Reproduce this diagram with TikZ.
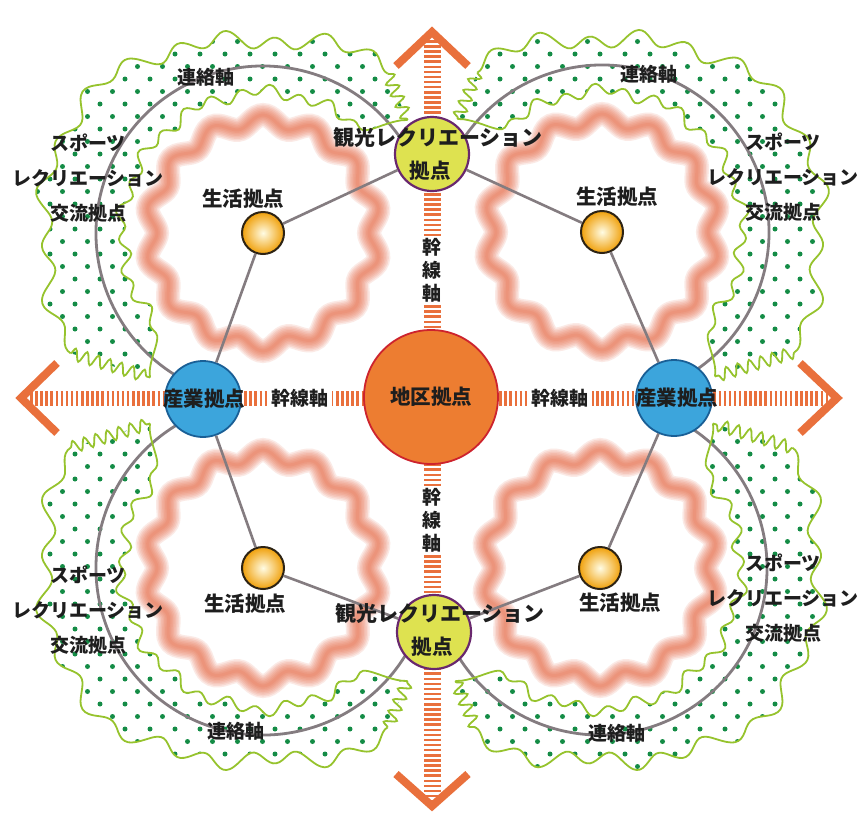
\documentclass[tikz,border=0pt]{standalone}
\usepackage{fontspec}
\setmainfont{Noto Sans CJK JP}
\usetikzlibrary{decorations.pathmorphing}

\definecolor{axisor}{RGB}{233,112,60}
\definecolor{starcol}{RGB}{230,100,62}
\definecolor{rimgreen}{RGB}{150,195,45}
\definecolor{dotgreen}{RGB}{20,140,70}
\definecolor{arcgray}{RGB}{132,124,128}
\definecolor{hubfill}{RGB}{237,125,49}
\definecolor{hubedge}{RGB}{205,35,45}
\definecolor{indfill}{RGB}{60,165,220}
\definecolor{indedge}{RGB}{25,95,150}
\definecolor{tourfill}{RGB}{222,226,80}
\definecolor{touredge}{RGB}{105,40,110}
\definecolor{lifeout}{RGB}{240,160,10}
\definecolor{lifein}{RGB}{255,252,228}
\definecolor{lifeedge}{RGB}{45,35,20}
\definecolor{txt}{RGB}{30,30,30}

\begin{document}
\begin{tikzpicture}[x=1pt,y=-1pt,
  declare function={
    rout(\t)=100/pow(pow(abs(cos(\t))/2.2+0.001,2.5)+pow(abs(sin(\t))/1.93+0.001,2.5),0.4)+7*sin(26*\t)+4*sin(11*\t+40);
    bump(\t)=max(0,1-abs(\t)/16);
    rin(\t)=141+5*sin(30*\t)+3*sin(13*\t)+36*bump(\t-38)*bump(\t-38)+36*bump(\t-232)*bump(\t-232);
  },
  rim/.style={rimgreen, line width=1.8pt},
  wiggle/.style={decorate, decoration={snake, amplitude=6pt, segment length=12pt}},
  arcline/.style={arcgray, line width=2.8pt},
  spoke/.style={arcgray, line width=2.6pt},
  hstripe/.style={axisor, line width=15pt, dash pattern=on 2.5pt off 2.6pt},
  vstripe/.style={axisor, line width=17pt, dash pattern=on 2.5pt off 2.6pt},
  chev/.style={axisor, line width=8pt, line join=miter},
  hub/.style={circle, fill=hubfill, draw=hubedge, line width=1.8pt, minimum size=134pt, inner sep=0pt},
  ind/.style={circle, fill=indfill, draw=indedge, line width=1.8pt, minimum size=76pt, inner sep=0pt},
  tour/.style={circle, fill=tourfill, draw=touredge, line width=2.2pt, minimum size=74pt, inner sep=0pt},
  life/.style={circle, draw=lifeedge, line width=2pt, minimum size=42pt, inner sep=0pt, inner color=lifein, outer color=lifeout},
  nlbl/.style={font=\fontsize{20.5}{20.5}\selectfont\bfseries, text=txt, inner sep=0pt},
  lbl/.style={font=\fontsize{19}{35}\selectfont\bfseries, text=txt, inner sep=0pt, align=center},
  hlbl/.style={font=\fontsize{19}{19}\selectfont\bfseries, text=txt, fill=white, inner xsep=3pt, inner ysep=1pt},
  vlbl/.style={font=\fontsize{19}{23}\selectfont\bfseries, text=txt, fill=white, inner xsep=1pt, inner ysep=2pt, align=center},
]
\useasboundingbox (0,0) rectangle (863,820);
\fill[white] (0,0) rectangle (863,820);

% dotted belts: centre, mirror signs, lattice offset
\foreach \cx/\cy/\sx/\sy/\ox/\oy in {263/233/+/-/0/0, 602/232/-/-/425/0, 263/568/+/+/0/400, 600/568/-/+/425/400}{
  \begin{scope}
    \clip plot[domain=52:212,samples=170,smooth] ({\cx \sx rout(\x)*cos(\x)},{\cy \sy rout(\x)*sin(\x)})
       -- plot[domain=232:38,samples=150,smooth] ({\cx \sx rin(\x)*cos(\x)},{\cy \sy rin(\x)*sin(\x)}) -- cycle;
    \foreach \j in {0,...,34}{
      \foreach \i in {0,...,18}{
        \fill[dotgreen] ({\ox+12.5*mod(\j,2)+25*\i},{\oy+4+12.5*\j}) circle[radius=2.5];
      }
    }
  \end{scope}
}

% soft wavy rings round each living area
\foreach \cx/\cy in {263/233, 602/232, 263/568, 600/568}{
  \foreach \w in {24,21,18,15,12,9,6,3}{
    \draw[starcol, line width=\w pt, opacity=0.13]
      plot[domain=0:360, samples=241] ({\cx+(112-6*cos(14*\x))*cos(\x)},{\cy+(112-6*cos(14*\x))*sin(\x)}) -- cycle;
  }
}

\coordinate (cTL) at (263,233);
\coordinate (cTR) at (602,232);
\coordinate (cBL) at (263,568);
\coordinate (cBR) at (600,568);

% link arcs
\draw[arcline] (cTL) ++(-24.8:167) arc[start angle=-24.8, end angle=-250.1, radius=167];
\draw[arcline] (cTR) ++(-155.6:167) arc[start angle=-155.6, end angle=66.6, radius=167];
\draw[arcline] (cBL) ++(20.5:167) arc[start angle=20.5, end angle=250.5, radius=167];
\draw[arcline] (cBR) ++(158.9:167) arc[start angle=158.9, end angle=-66.5, radius=167];

% trunk axes
\coordinate (axW) at (30,398);
\coordinate (axE) at (832,398);
\coordinate (axN) at (432,40);
\coordinate (axS) at (432,800);
\draw[hstripe] (axW) -- (axE);
\draw[vstripe] (axN) -- (axS);
\draw[chev] (57,363) -- (21,398) -- (57,433);
\draw[chev] (800,363) -- (837,398) -- (800,433);
\draw[chev] (396,66) -- (432,32) -- (468,66);
\draw[chev] (396,774) -- (432,806) -- (468,774);

% belt outlines
\foreach \cx/\cy/\sx/\sy in {263/233/+/-, 602/232/-/-, 263/568/+/+, 600/568/-/+}{
  \draw[rim] plot[domain=52:212,samples=170,smooth] ({\cx \sx rout(\x)*cos(\x)},{\cy \sy rout(\x)*sin(\x)});
  \draw[rim] plot[domain=232:38,samples=150,smooth] ({\cx \sx rin(\x)*cos(\x)},{\cy \sy rin(\x)*sin(\x)});
  \draw[rim, wiggle] ({\cx \sx rout(52)*cos(52)},{\cy \sy rout(52)*sin(52)}) -- ({\cx \sx rin(38)*cos(38)},{\cy \sy rin(38)*sin(38)});
  \draw[rim, wiggle] ({\cx \sx rout(212)*cos(212)},{\cy \sy rout(212)*sin(212)}) -- ({\cx \sx rin(232)*cos(232)},{\cy \sy rin(232)*sin(232)});
}

% hubs
\node[hub] (hub) at (431,397) {};
\node[ind] (indW) at (203,399) {};
\node[ind] (indE) at (674,398) {};
\node[tour] (tourN) at (432,154) {};
\node[tour] (tourS) at (434,632) {};
\node[life] (lifeTL) at (cTL) {};
\node[life] (lifeTR) at (cTR) {};
\node[life] (lifeBL) at (cBL) {};
\node[life] (lifeBR) at (cBR) {};

% spokes
\draw[spoke] (lifeTL) -- (tourN);
\draw[spoke] (lifeTL) -- (indW);
\draw[spoke] (lifeTR) -- (tourN);
\draw[spoke] (lifeTR) -- (indE);
\draw[spoke] (lifeBL) -- (tourS);
\draw[spoke] (lifeBL) -- (indW);
\draw[spoke] (lifeBR) -- (tourS);
\draw[spoke] (lifeBR) -- (indE);

% labels
\node[nlbl] (tHub) at (hub) {地区拠点};
\node[nlbl] (tIndW) at (204,399) {産業拠点};
\node[nlbl] (tIndE) at (677,398) {産業拠点};
\node[nlbl, font=\fontsize{21}{21}\selectfont\bfseries] (tTourN) at (438,137) {観光レクリエーション};
\node[nlbl] (tTourN2) at (430,171) {拠点};
\node[nlbl, font=\fontsize{21}{21}\selectfont\bfseries] (tTourS) at (440,613) {観光レクリエーション};
\node[nlbl] (tTourS2) at (432,647) {拠点};

\node[nlbl] (tLifeTL) at (243,199) {生活拠点};
\node[nlbl] (tLifeTR) at (617,197) {生活拠点};
\node[nlbl] (tLifeBL) at (245,604) {生活拠点};
\node[nlbl] (tLifeBR) at (620,603) {生活拠点};

\node[lbl] (tSpTL) at (88,178) {スポーツ\\レクリエーション\\交流拠点};
\node[lbl] (tSpTR) at (783,177) {スポーツ\\レクリエーション\\交流拠点};
\node[lbl] (tSpBL) at (88,610) {スポーツ\\レクリエーション\\交流拠点};
\node[lbl] (tSpBR) at (783,598) {スポーツ\\レクリエーション\\交流拠点};

\node[lbl] (tLinkTL) at (206,77) {連絡軸};
\node[lbl] (tLinkTR) at (649,74) {連絡軸};
\node[lbl] (tLinkBL) at (236,731) {連絡軸};
\node[lbl] (tLinkBR) at (617,733) {連絡軸};

\node[hlbl] (tTrW) at (300,398) {幹線軸};
\node[hlbl] (tTrE) at (560,398) {幹線軸};
\node[vlbl] (tTrN) at (432,270) {幹\\線\\軸};
\node[vlbl] (tTrS) at (432,520) {幹\\線\\軸};
\end{tikzpicture}
\end{document}
